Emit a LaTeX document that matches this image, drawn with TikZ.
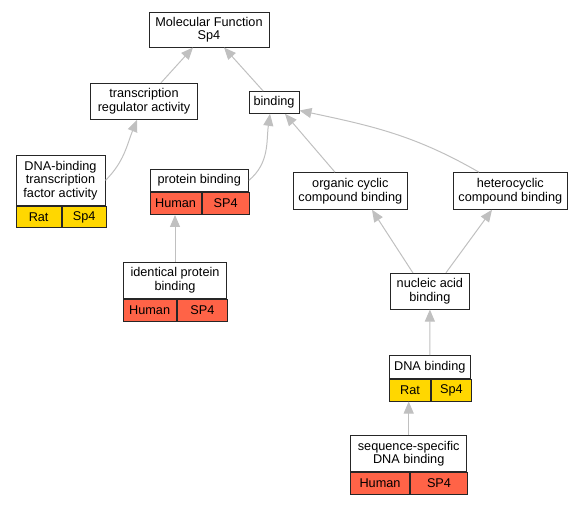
\documentclass[tikz,border=0pt]{standalone}
\usepackage{fontspec}
\setmainfont{Liberation Sans}
\usetikzlibrary{arrows.meta,positioning,calc}
\definecolor{ratc}{HTML}{FFD700}
\definecolor{humanc}{HTML}{FF6347}
\definecolor{edgec}{HTML}{C0C0C0}

\begin{document}
\begin{tikzpicture}[x=1pt, y=1pt,
  term/.style={draw=black!85, line width=1pt, fill=white, align=center, inner sep=0pt, font=\fontsize{12.7}{13.5}\selectfont},
  ratcell/.style={term, fill=ratc, minimum height=21.7},
  humcell/.style={term, fill=humanc, minimum height=21.7},
  isa/.style={-{Triangle[length=12pt, width=10pt]}, edgec, line width=1pt}]

\useasboundingbox (0,0) rectangle (584,-504);

\node[term, minimum width=120, minimum height=35] (mf) at (209,-29.5) {Molecular Function\\Sp4};
\node[term, minimum width=107, minimum height=36] (trreg) at (144,-101.3) {transcription\\regulator activity};
\node[term, minimum width=50, minimum height=21.7] (bind) at (274,-102.5) {binding};
\node[term, minimum width=114, minimum height=36.6] (orgcyc) at (350.3,-191) {organic cyclic\\compound binding};
\node[term, minimum width=114, minimum height=36.6] (hetcyc) at (510.3,-191) {heterocyclic\\compound binding};
\node[term, minimum width=78.3, minimum height=35.7] (nucl) at (429.9,-291.2) {nucleic acid\\binding};

% annotated terms
\node[term, minimum width=89, minimum height=49.3] (dnatf) at (60.5,-180.4) {DNA-binding\\transcription\\factor activity};
\node[ratcell, minimum width=45.3, below right=0pt and 0pt of dnatf.south west] (dnatf-r) {Rat};
\node[ratcell, minimum width=43.7, right=0pt of dnatf-r] (dnatf-s) {Sp4};

\node[term, minimum width=98.3, minimum height=22.7] (protb) at (199.2,-180.4) {protein binding};
\node[humcell, minimum width=51, below right=0pt and 0pt of protb.south west] (protb-h) {Human};
\node[humcell, minimum width=47.3, right=0pt of protb-h] (protb-s) {SP4};

\node[term, minimum width=103.4, minimum height=36] (idprot) at (175,-280.3) {identical protein\\binding};
\node[humcell, minimum width=52.7, below right=0pt and 0pt of idprot.south west] (idprot-h) {Human};
\node[humcell, minimum width=50.7, right=0pt of idprot-h] (idprot-s) {SP4};

\node[term, minimum width=81, minimum height=22.6] (dnab) at (429.8,-367) {DNA binding};
\node[ratcell, minimum width=41.4, below right=0pt and 0pt of dnab.south west] (dnab-r) {Rat};
\node[ratcell, minimum width=39.6, right=0pt of dnab-r] (dnab-s) {Sp4};

\node[term, minimum width=116, minimum height=36] (seqdna) at (408.7,-453.7) {sequence-specific\\DNA binding};
\node[humcell, minimum width=58.6, below right=0pt and 0pt of seqdna.south west] (seqdna-h) {Human};
\node[humcell, minimum width=57.4, right=0pt of seqdna-h] (seqdna-s) {SP4};

% is_a edges
\draw[isa] ($(trreg.north)+(17,0)$) -- ($(mf.south)+(-16,0)$);
\draw[isa] ($(bind.north)+(-10.7,0)$) -- ($(mf.south)+(15,0)$);
\draw[isa] (dnatf.east) to[out=45, in=-112] ($(trreg.south)+(-7,0)$);
\draw[isa] (protb.east) to[out=40, in=-98] ($(bind.south)+(-4,0)$);
\draw[isa] ($(orgcyc.north)+(-15.3,0)$) -- ($(bind.south)+(11,0)$);
\draw[isa] ($(hetcyc.north)+(-31.3,0)$) to[out=150, in=-12] ($(bind.east)+(0,-8)$);
\draw[isa] (idprot.north) -- (idprot.north |- protb-h.south);
\draw[isa] ($(nucl.north)+(-17,0)$) -- ($(orgcyc.south)+(21.7,0)$);
\draw[isa] ($(nucl.north)+(16,0)$) -- ($(hetcyc.south)+(-18.3,0)$);
\draw[isa] (dnab.north) -- (nucl.south);
\draw[isa] (seqdna.north) -- (seqdna.north |- dnab-r.south);
\end{tikzpicture}
\end{document}
